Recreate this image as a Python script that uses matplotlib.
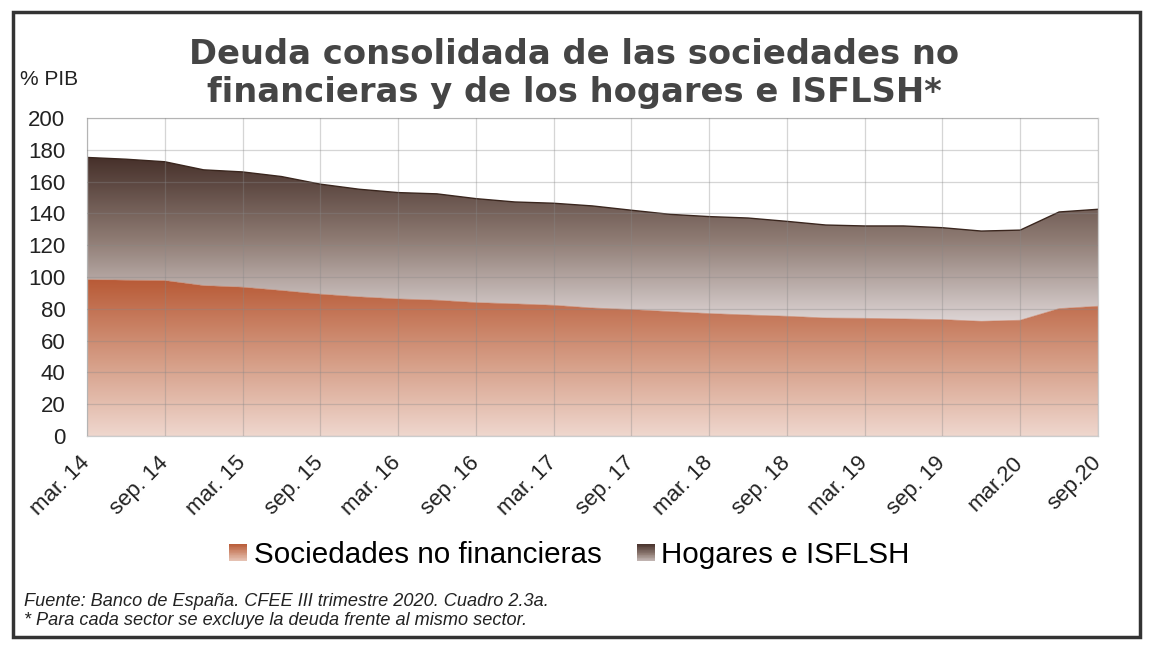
import matplotlib
matplotlib.use('Agg')
import matplotlib.pyplot as plt
import numpy as np
from matplotlib.colors import LinearSegmentedColormap
from matplotlib.patches import Rectangle, Patch
from matplotlib.legend_handler import HandlerBase

# quarterly data, % PIB, mar.14 -> sep.20
quarters = ['mar. 14', 'jun. 14', 'sep. 14', 'dic. 14',
            'mar. 15', 'jun. 15', 'sep. 15', 'dic. 15',
            'mar. 16', 'jun. 16', 'sep. 16', 'dic. 16',
            'mar. 17', 'jun. 17', 'sep. 17', 'dic. 17',
            'mar. 18', 'jun. 18', 'sep. 18', 'dic. 18',
            'mar. 19', 'jun. 19', 'sep. 19', 'dic. 19',
            'mar.20', 'jun.20', 'sep.20']

sociedades = [98.4, 98.0, 97.8, 94.6, 93.6, 91.5, 89.2, 87.5, 86.2, 85.4,
              83.9, 83.1, 82.2, 80.5, 79.5, 78.2, 77.0, 76.1, 75.3, 74.2,
              74.0, 73.6, 73.2, 72.1, 72.8, 80.1, 81.6]

total = [175.2, 174.1, 172.5, 167.4, 166.1, 163.2, 158.4, 155.2, 153.1, 152.3,
         149.3, 147.2, 146.4, 144.7, 142.0, 139.4, 138.0, 137.1, 135.0, 132.7,
         132.1, 132.1, 131.0, 128.9, 129.5, 140.9, 142.6]

hogares = [t - s for t, s in zip(total, sociedades)]

labels = ['Sociedades no financieras', 'Hogares e ISFLSH']


class GradHandler(HandlerBase):
    # legend key drawn as a vertical gradient square
    def __init__(self, cmap):
        super().__init__()
        self.cmap = cmap

    def create_artists(self, legend, orig_handle, xdescent, ydescent,
                       width, height, fontsize, trans):
        n = 24
        arts = []
        for i in range(n):
            r = Rectangle((-xdescent, -ydescent + i * height / n), width,
                          height / n * 1.05, facecolor=self.cmap(0.15 + 0.85 * i / (n - 1)),
                          edgecolor='none', transform=trans)
            arts.append(r)
        return arts


plt.rcParams['font.family'] = ['Liberation Sans', 'DejaVu Sans']

fig = plt.figure(figsize=(11.49, 6.51), dpi=100)
ax = fig.add_axes([0.0757, 0.3303, 0.8799, 0.4884])

x = np.arange(len(quarters))
soc = np.array(sociedades)
top = soc + np.array(hogares)

cm_soc = LinearSegmentedColormap.from_list('soc', ['#efd7ce', '#d49a82', '#b85a36'])
cm_hog = LinearSegmentedColormap.from_list('hog', ['#ddd4d4', '#8e7b73', '#46302a'])

grad = np.linspace(0, 1, 256).reshape(-1, 1)

# gradient areas clipped to the stacked polygons
poly_s = ax.fill_between(x, 0, soc, facecolor='none', edgecolor='none')
im_s = ax.imshow(grad, cmap=cm_soc, origin='lower', aspect='auto',
                 extent=[x[0], x[-1], 0, soc.max()], zorder=1)
im_s.set_clip_path(poly_s.get_paths()[0], transform=ax.transData)

poly_h = ax.fill_between(x, soc, top, facecolor='none', edgecolor='none')
im_h = ax.imshow(grad, cmap=cm_hog, origin='lower', aspect='auto',
                 extent=[x[0], x[-1], soc.min(), top.max()], zorder=1)
im_h.set_clip_path(poly_h.get_paths()[0], transform=ax.transData)

# thin edge on the top of each area
ax.plot(x, top, color='#3a261e', lw=1.0, zorder=2)
ax.plot(x, soc, color='#c47050', lw=0.6, alpha=0.6, zorder=2)

ax.set_xlim(0, 26)
ax.set_ylim(0, 200)
ax.set_yticks(range(0, 201, 20))
ax.set_xticks(x[::2])
ax.set_xticklabels(quarters[::2], rotation=45, ha='right', va='center',
                   rotation_mode='anchor', fontsize=16, color='#222222')
ax.tick_params(axis='y', labelsize=16, length=0, pad=15.5, labelcolor='#222222')
ax.tick_params(axis='x', length=0, pad=17)

ax.grid(True, color='#888888', alpha=0.35, lw=0.9, zorder=3)
ax.set_axisbelow(False)
for sp in ax.spines.values():
    sp.set_color('#cccccc')
    sp.set_linewidth(0.9)

# legend with gradient keys
h1, h2 = Patch(), Patch()
fig.legend([h1, h2], labels, loc='center', bbox_to_anchor=(0.4957, 0.1475),
           ncol=2, frameon=False, fontsize=21.3, handlelength=0.6,
           handleheight=0.55, handletextpad=0.22, columnspacing=1.2,
           handler_map={h1: GradHandler(cm_soc), h2: GradHandler(cm_hog)})

# title and texts
fig.text(0.4996, 1 - 102 / 651, 'Deuda consolidada de las sociedades no\nfinancieras y de los hogares e ISFLSH*',
         ha='center', va='baseline', fontsize=24.3, fontweight='bold',
         color='#454545', family='DejaVu Sans', linespacing=1.18)
fig.text(0.0174, 1 - 85 / 651, '% PIB', fontsize=15, color='#222222', va='baseline')
fig.text(0.021, 1 - 606.5 / 651, 'Fuente: Banco de España. CFEE III trimestre 2020. Cuadro 2.3a.',
         fontsize=13.1, style='italic', color='#222222', va='baseline')
fig.text(0.021, 1 - 625 / 651, '* Para cada sector se excluye la deuda frente al mismo sector.',
         fontsize=13.1, style='italic', color='#222222', va='baseline')

# frame around the figure
fig.patches.append(Rectangle((0.011, 0.022), 0.981, 0.96, transform=fig.transFigure,
                             fill=False, edgecolor='#333333', lw=2.5))

fig.savefig('out.png', dpi=100)
